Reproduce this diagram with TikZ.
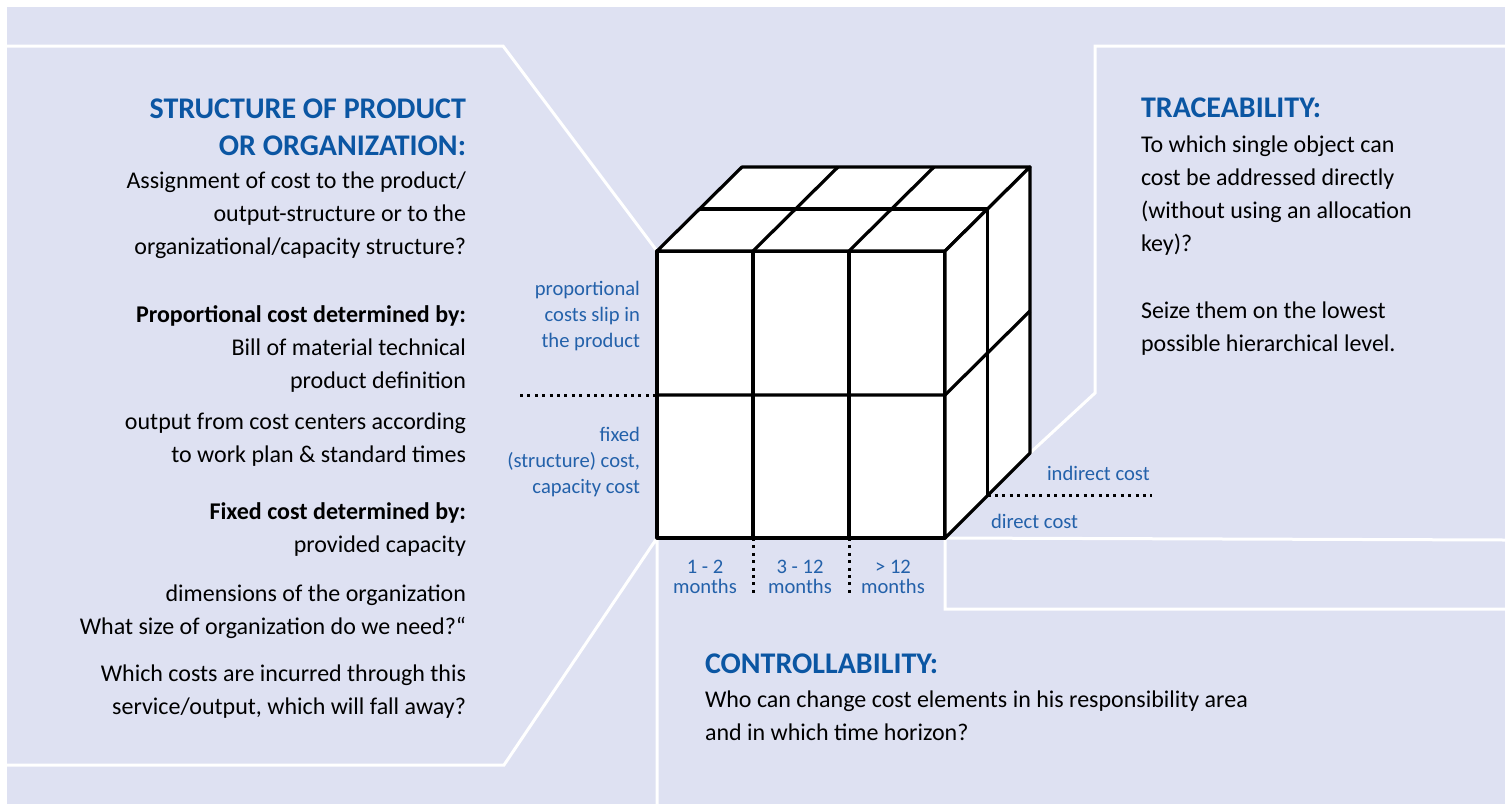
\documentclass[tikz,border=0pt]{standalone}
\usepackage{fontspec}
\setmainfont{Carlito}
\usetikzlibrary{positioning,calc}
\definecolor{panelbg}{HTML}{DEE1F2}
\definecolor{headblue}{HTML}{0B56A3}
\definecolor{tagblue}{HTML}{2361AA}

\begin{document}
\begin{tikzpicture}
	[x=0.5pt,y=-0.5pt,
	every node/.style={inner sep=0pt,outer sep=0pt},
	head/.style={font=\fontsize{15}{18.5}\selectfont\bfseries,text=headblue},
	body/.style={font=\fontsize{12}{16.5}\selectfont},
	sub/.style={font=\fontsize{12}{16.5}\selectfont\bfseries},
	tag/.style={font=\fontsize{10.3}{13}\selectfont,text=tagblue},
	divide/.style={white,line width=1.5pt},
	cube/.style={black,line width=1.6pt,line join=round},
	dots/.style={black,line width=1.5pt,dash pattern=on 1.5pt off 2.2pt}]
	\useasboundingbox (0,0) rectangle (1511,804);
	\fill[panelbg] (7,7) rectangle (1505,804);
	
	% corners of the cube
	\coordinate (ftl) at (657,251);
	\coordinate (fbl) at (657,538);
	\coordinate (fbr) at (945,538);
	\coordinate (bbr) at (1030,453);
	
	% white panel borders
	\draw[divide] (7,46) -- (503,46) -- (ftl);
	\draw[divide] (7,765) -- (504,765) -- (fbl) -- (fbl |- 0,804);
	\draw[divide] (1505,46) -- (1095,46) -- (1095,393) -- (bbr);
	\draw[divide] (1505,540) -- (fbr) -- (945,609) -- (1505,609);
	
	% cube
	\filldraw[cube,fill=white] (ftl) rectangle (fbr);
	\filldraw[cube,fill=white] (ftl) -- ++(85,-84) -- ++(288,0) -- ++(-85,84) -- cycle;
	\filldraw[cube,fill=white] (945,251) -- ++(85,-84) -- (bbr) -- (fbr) -- cycle;
	\foreach \x in {753,849}
	{
		\draw[cube] (\x,251) -- (\x,538);
		\draw[cube] (\x,251) -- ++(85,-84);
	}
	\draw[cube] (657,395) -- (945,395) -- ++(85,-84);
	\draw[cube] (699.5,209) -- ++(288,0) -- ++(0,287);
	\coordinate (split) at (987.5,495.5);
	
	% dotted separators
	\draw[dots] (520,395) -- (657,395);
	\foreach \x in {753,849}
		\draw[dots] (\x,538) -- (\x,594);
	\draw[dots] (split) -- (1152,495.5);
	
	% left panel (base = last line)
	\node[head,align=right,anchor=base east] (structhead) at (466,155) {STRUCTURE OF PRODUCT\\OR ORGANIZATION:};
	\node[body,align=right,anchor=base east] (structtxt) at (466,254) {Assignment of cost to the product/\\output-structure or to the\\organizational/capacity structure?};
	\node[sub,anchor=base east] (prophead) at (466,322) {Proportional cost determined by:};
	\node[body,align=right,anchor=base east] (proptxt) at (466,388) {Bill of material technical\\product definition};
	\node[body,align=right,anchor=base east] (proptxt2) at (466,462) {output from cost centers according\\to work plan \& standard times};
	\node[sub,anchor=base east] (fixhead) at (466,519) {Fixed cost determined by:};
	\node[body,anchor=base east] (fixtxt) at (466,552) {provided capacity};
	\node[body,align=right,anchor=base east] (fixtxt2) at (466,634) {dimensions of the organization\\What size of organization do we need?“};
	\node[body,align=right,anchor=base east] (fixtxt3) at (466,714) {Which costs are incurred through this\\service/output, which will fall away?};
	
	% cube labels
	\node[tag,align=right,anchor=base east] (proplab) at (640,347) {proportional\\costs slip in\\the product};
	\node[tag,align=right,anchor=base east] (fixlab) at (640,493) {fixed\\(structure) cost,\\capacity cost};
	\foreach \x/\range/\name in {705/1 - 2/m1,800/3 - 12/m2,893/> 12/m3}
		\node[tag,align=center,anchor=base] (\name) at (\x,593) {\range\\[-3pt]months};
	\node[tag,anchor=base west] (indirect) at (1047,480) {indirect cost};
	\node[tag,anchor=base west] (direct) at (991,528) {direct cost};
	
	% right panel
	\node[head,anchor=base west] (tracehead) at (1141,117) {TRACEABILITY:};
	\node[body,align=left,anchor=base west] (tracetxt) at (1141,251) {To which single object can\\cost be addressed directly\\(without using an allocation\\key)?};
	\node[body,align=left,anchor=base west] (tracetxt2) at (1141,351) {Seize them on the lowest\\possible hierarchical level.};
	
	% bottom panel
	\node[head,anchor=base west] (ctrlhead) at (705,673) {CONTROLLABILITY:};
	\node[body,align=left,anchor=base west] (ctrltxt) at (705,740) {Who can change cost elements in his responsibility area\\and in which time horizon?};
\end{tikzpicture}
\end{document}
